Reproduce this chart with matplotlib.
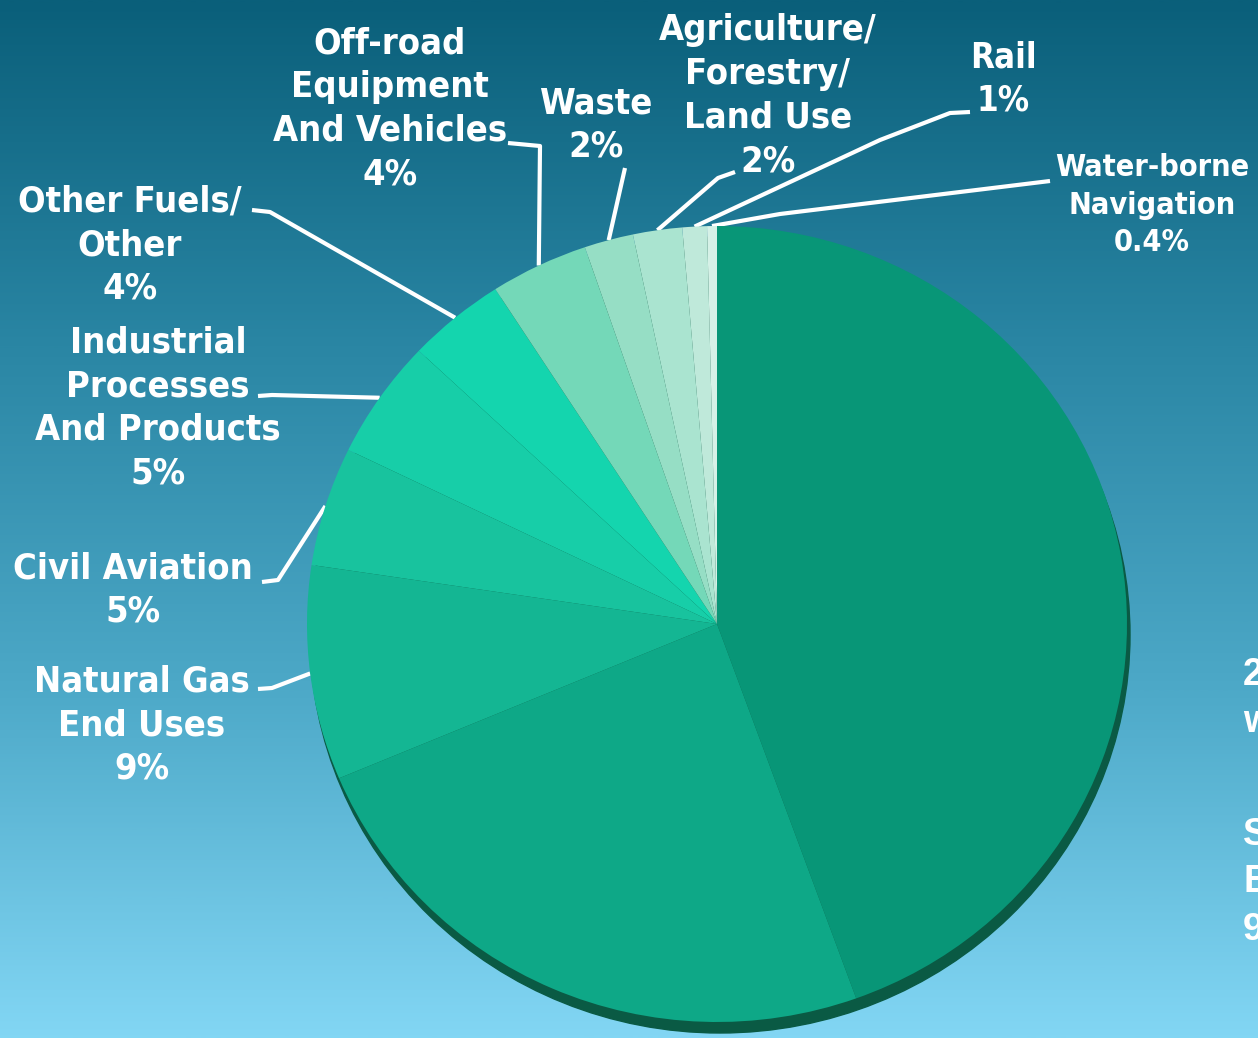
import numpy as np
import matplotlib
matplotlib.use("Agg")
import matplotlib.pyplot as plt
from matplotlib.colors import LinearSegmentedColormap
from matplotlib.patches import Ellipse
from matplotlib import font_manager as fm

# ---- data ----
categories = ["On-road Transportation", "Electricity", "Natural Gas End Uses",
              "Civil Aviation", "Industrial Processes And Products",
              "Other Fuels/ Other", "Off-road Equipment And Vehicles",
              "Waste", "Agriculture/ Forestry/ Land Use", "Rail",
              "Water-borne Navigation"]
values = [46, 25, 9, 5, 5, 4, 4, 2, 2, 1, 0.4]
pct_labels = ["46%", "25%", "9%", "5%", "5%", "4%", "4%", "2%", "2%", "1%", "0.4%"]
colors = ["#089677", "#0ea887", "#14b693", "#18c39e", "#17cea8", "#14d5ae",
          "#74d8b8", "#96dec5", "#aae4d0", "#bfe9da", "#d6f1e7"]

W, H = 1258, 1038
fig = plt.figure(figsize=(W / 100, H / 100), dpi=100)
ax = fig.add_axes([0, 0, 1, 1])
ax.set_xlim(0, W)
ax.set_ylim(H, 0)
ax.axis("off")

# background gradient
bg = LinearSegmentedColormap.from_list("bg", ["#0a5f7a", "#2a86a4", "#4da9c8", "#82d6f4"])
grad = np.linspace(0, 1, 512).reshape(-1, 1)
ax.imshow(grad, cmap=bg, extent=(0, W, H, 0), aspect="auto", zorder=0)

# pie geometry (pixels)
cx, cy, rx, ry = 717, 624, 410, 398

# shadow
ax.add_patch(Ellipse((cx + 3, cy + 11), 2 * rx, 2 * ry, color="#0a5a44", zorder=1))

pax = fig.add_axes([(cx - rx) / W, 1 - (cy + ry) / H, 2 * rx / W, 2 * ry / H])
wedges, _ = pax.pie(values, colors=colors, startangle=90, counterclock=False,
                    radius=1, frame=True, wedgeprops=dict(linewidth=0))
pax.set_xlim(-1, 1)
pax.set_ylim(-1, 1)
pax.set_aspect("auto")
pax.axis("off")

def edge_point(theta_deg, scale=1.0):
    t = np.deg2rad(theta_deg)
    return cx + rx * scale * np.cos(t), cy - ry * scale * np.sin(t)

mids = [(w.theta1 + w.theta2) / 2 for w in wedges]

def bold_props(size):
    fp = fm.FontProperties(family="DejaVu Sans", weight="bold", stretch="condensed", size=size)
    return dict(fontproperties=fp, color="white", ha="center", va="center",
                linespacing=1.37, zorder=5)

outer = [
    (2, "Natural Gas\nEnd Uses\n" + pct_labels[2], (142, 725), [(258, 689), (272, 688)], 26),
    (3, "Civil Aviation\n" + pct_labels[3], (133, 590), [(262, 582), (278, 580)], 26),
    (4, "Industrial\nProcesses\nAnd Products\n" + pct_labels[4], (158, 408), [(258, 396), (272, 395)], 26),
    (5, "Other Fuels/\nOther\n" + pct_labels[5], (130, 245), [(252, 210), (270, 212)], 26),
    (6, "Off-road\nEquipment\nAnd Vehicles\n" + pct_labels[6], (390, 109), [(508, 143), (540, 146)], 26),
    (7, "Waste\n" + pct_labels[7], (596, 125), [(625, 168)], 26),
    (8, "Agriculture/\nForestry/\nLand Use\n" + pct_labels[8], (768, 96), [(735, 172), (718, 178)], 26),
    (9, "Rail\n" + pct_labels[9], (1003, 79), [(970, 112), (950, 113), (880, 140)], 25),
    (10, "Water-borne\nNavigation\n" + pct_labels[10], (1152, 205), [(1050, 181), (780, 214)], 22),
]

for idx, txt, (tx, ty), pts, size in outer:
    ax.text(tx, ty, txt, **bold_props(size))
    ex, ey = edge_point(mids[idx], 1.0)
    xs = [p[0] for p in pts] + [ex]
    ys = [p[1] for p in pts] + [ey]
    ax.plot(xs, ys, color="white", lw=3, zorder=4, solid_capstyle="butt")

inner = dict(family=["Open Sans", "DejaVu Sans"], color="#eef8f3", fontsize=22,
             ha="center", va="center", linespacing=1.25, zorder=5)
ax.text(917, 605, "On-road\nTransportation\n" + pct_labels[0], **inner)
ax.text(598, 868, "Electricity\n" + pct_labels[1], **inner)

# cut-off side text at right edge
side = [("2", 675), ("w", 722), ("S", 835), ("E", 882), ("9", 930)]
for s, yy in side:
    ax.text(1243, yy, s, color="white", fontsize=27, fontweight="bold",
            family=["Liberation Sans", "DejaVu Sans"], ha="left", va="center", zorder=5)

fig.savefig("out.png", dpi=100)
